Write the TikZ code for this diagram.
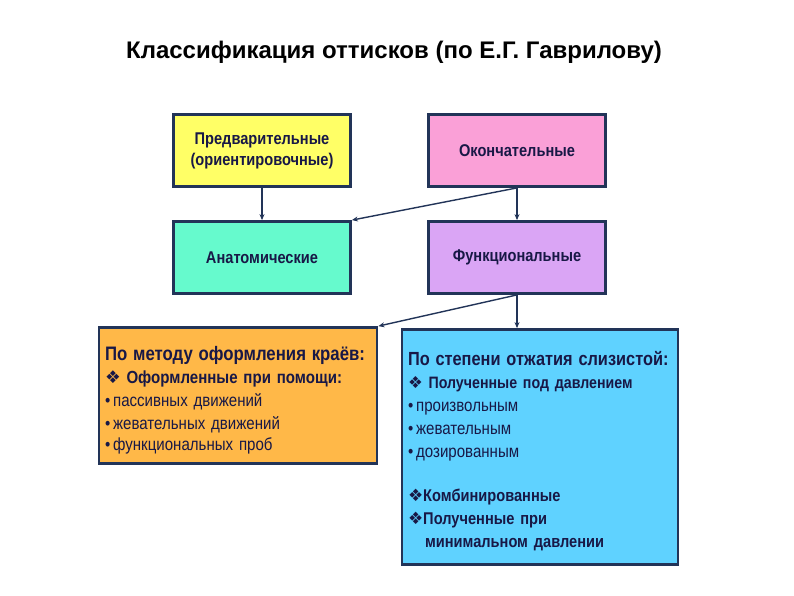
\documentclass[tikz,border=0pt]{standalone}
\usepackage{fontspec}
\setmainfont{Liberation Sans}
\newfontfamily\narrowfont[FakeStretch=0.86]{Liberation Sans}
\newfontfamily\symfont{DejaVu Sans}
\usetikzlibrary{positioning,arrows.meta}
\definecolor{framenavy}{RGB}{34,52,88}
\definecolor{textnavy}{RGB}{24,24,70}
\definecolor{prelimyellow}{RGB}{255,255,102}
\definecolor{finalpink}{RGB}{250,160,215}
\definecolor{anataqua}{RGB}{102,250,205}
\definecolor{funcviolet}{RGB}{218,165,245}
\definecolor{edgeorange}{RGB}{255,184,72}
\definecolor{pressblue}{RGB}{95,210,255}
\newcommand{\dia}{{\symfont\char"2756}}
\newcommand{\bul}{•\,}

\tikzset{
  kindbox/.style={draw=framenavy, line width=2.8pt, text=textnavy,
    font=\narrowfont\bfseries\fontsize{17}{21}\selectfont, align=center,
    minimum width=177pt, minimum height=72pt, inner sep=0pt},
  listbox/.style={draw=framenavy, line width=2.8pt, text=textnavy,
    font=\narrowfont\fontsize{17.5}{23}\selectfont, align=left,
    inner xsep=6pt, inner ysep=0pt},
  link/.style={-{Stealth[length=6pt,width=5pt]}, framenavy, line width=1.4pt}
}

\begin{document}
\begin{tikzpicture}[x=1pt, y=-1pt]

    % Page frame
    \useasboundingbox (0,0) rectangle (794,595);

    % Title
    \node[font=\bfseries\fontsize{24}{26}\selectfont] (title) at (394,52)
        {Классификация оттисков (по Е.Г. Гаврилову)};

    % First two rows
    \node[kindbox, fill=prelimyellow] (prelim) at (262,150.5)
        {Предварительные\\(ориентировочные)};
    \node[kindbox, fill=finalpink] (final) at (517,150.5) {Окончательные};
    \node[kindbox, fill=anataqua] (anat) at (262,257.5) {Анатомические};
    \node[kindbox, fill=funcviolet] (func) at (517,257.5) {Функциональные};

    % Lower boxes
    \node[listbox, fill=edgeorange, minimum width=277pt, minimum height=136pt,
          text width=266pt] (edge) at (238,395.5)
        {{\bfseries\fontsize{19.5}{23}\selectfont\rule{0pt}{24pt}По методу оформления краёв:}\\
         {\bfseries \dia\ Оформленные при помощи:}\\
         \bul пассивных движений\\
         \bul жевательных движений\\[-2pt]
         \bul функциональных проб};
    \node[listbox, fill=pressblue, minimum width=275pt, minimum height=235pt,
          text width=264pt] (press) at (540,447)
        {{\bfseries\fontsize{19}{23.3}\selectfont\rule{0pt}{22pt}По степени отжатия слизистой:}\\
         {\bfseries\fontsize{16.5}{23.3}\selectfont \dia\ Полученные под давлением}\\
         \bul произвольным\\
         \bul жевательным\\
         \bul дозированным\\[21pt]
         {\bfseries\fontsize{17}{23.3}\selectfont \dia Комбинированные}\\
         {\bfseries\fontsize{17}{23.3}\selectfont \dia Полученные при}\\
         {\bfseries\fontsize{17}{23.3}\selectfont \quad минимальном давлении}};

    % Arrows
    \draw[link] (prelim) -- (anat);
    \draw[link] (final) -- (func);
    \draw[link] (final.south) -- (anat.north east);
    \draw[link] (func) -- (func |- press.north);
    \draw[link] (func.south) -- (edge.north east);

\end{tikzpicture}
\end{document}
